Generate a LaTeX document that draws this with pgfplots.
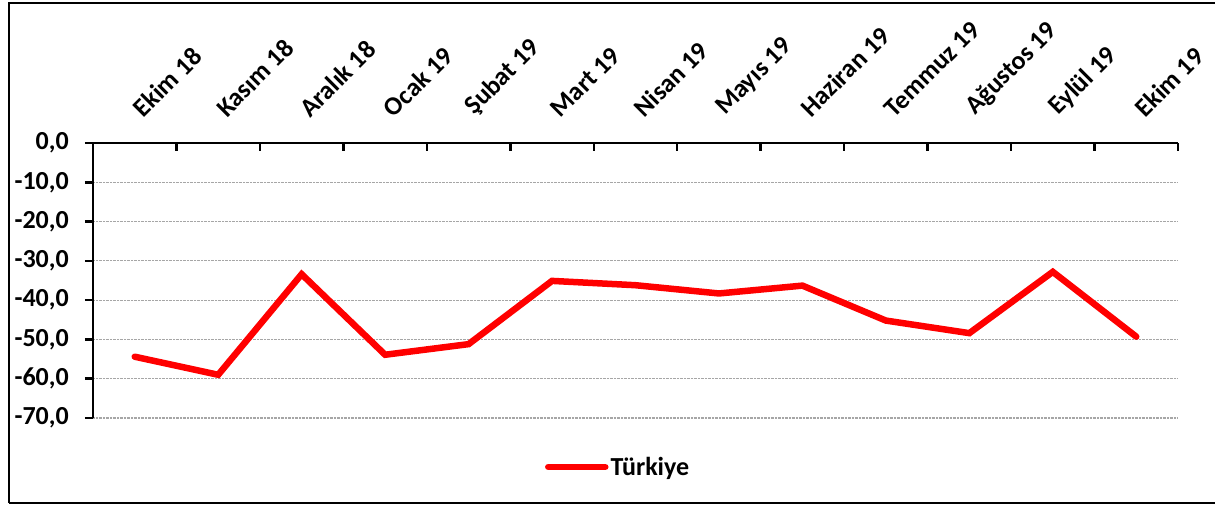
\documentclass[border=0pt]{standalone}
\usepackage{pgfplots}
\pgfplotsset{compat=1.18}
\usepackage{fontspec}
\setmainfont{Carlito}
\begin{document}
\begin{tikzpicture}[x=1pt,y=1pt]
\useasboundingbox (-93,-88) rectangle (1122,418);
\draw[line width=2pt] (-84,-85) -- (-84,415) -- (1130,415);
\draw[line width=2pt] (-84,-85) -- (1130,-85);
\begin{axis}[
  scale only axis, width=1085pt, height=275pt,
  at={(0,0)}, anchor=south west,
  xmin=-0.5, xmax=12.5, ymin=-70, ymax=0,
  axis x line=top, axis y line=left,
  axis line style={-, line width=2.5pt, black},
  font=\fontsize{26}{31}\selectfont\bfseries,
  xtick={0,...,12},
  xticklabels={Ekim 18,Kasım 18,Aralık 18,Ocak 19,Şubat 19,Mart 19,Nisan 19,Mayıs 19,Haziran 19,Temmuz 19,Ağustos 19,Eylül 19,Ekim 19},
  xtick style={draw=none},
  xticklabel style={xshift=9pt, yshift=16pt, rotate=45, anchor=south west, inner sep=0pt},
  extra x ticks={-0.5,0.5,...,12.5},
  extra x tick labels={},
  extra x tick style={tick align=inside, xtick style={draw=black, line width=2.5pt}},
  ytick={-70,-60,...,0},
  yticklabels={{-70,0},{-60,0},{-50,0},{-40,0},{-30,0},{-20,0},{-10,0},{0,0}},
  tick align=outside,
  major tick length=8pt,
  ytick style={line width=2.5pt, black},
  yticklabel style={anchor=east, inner sep=0pt, xshift=-16pt},
  ymajorgrids=true,
  grid style={densely dotted, gray!70, line width=1.2pt},
  legend style={at={(0.484,-0.178)}, anchor=center, draw=none, fill=none,
    font=\fontsize{26}{31}\selectfont\bfseries, inner sep=0pt},
  legend image code/.code={\draw[#1, line cap=round] (0pt,0pt) -- (57pt,0pt);},
  clip=false,
]
\addplot[red, line width=6.5pt, line cap=round, line join=miter] coordinates {
(0,-54.4) (1,-59.0) (2,-33.4) (3,-53.9) (4,-51.2) (5,-35.1) (6,-36.2)
(7,-38.3) (8,-36.3) (9,-45.2) (10,-48.4) (11,-32.8) (12,-49.3)
};
\addlegendentry{Türkiye}
\end{axis}
\end{tikzpicture}
\end{document}
